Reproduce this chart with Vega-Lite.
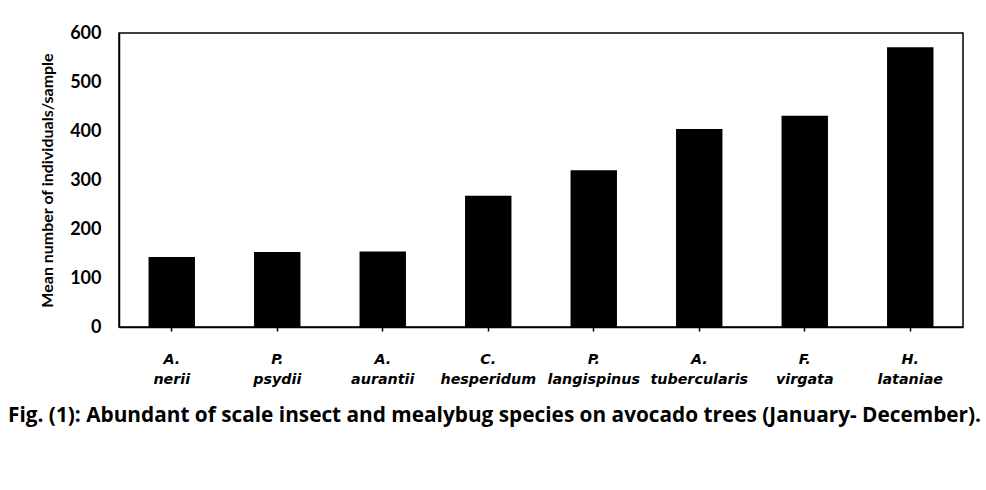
{
  "$schema": "https://vega.github.io/schema/vega-lite/v6.json",
  "width": 844,
  "height": 294,
  "autosize": {"type": "none"},
  "padding": {"left": 119, "top": 33, "right": 23, "bottom": 163},
  "background": "white",
  "data": {
    "values": [
      {"species": "A. nerii", "mean": 143},
      {"species": "P. psydii", "mean": 153},
      {"species": "A. aurantii", "mean": 154},
      {"species": "C. hesperidum", "mean": 268},
      {"species": "P. langispinus", "mean": 320},
      {"species": "A. tubercularis", "mean": 404},
      {"species": "F. virgata", "mean": 431},
      {"species": "H. lataniae", "mean": 571}
    ]
  },
  "title": {
    "text": "Fig. (1): Abundant of scale insect and mealybug species on avocado trees (January- December).",
    "orient": "bottom",
    "anchor": "start",
    "frame": "group",
    "dx": -111,
    "offset": 20,
    "font": "Open Sans",
    "fontSize": 20.8,
    "fontWeight": "bold",
    "color": "black"
  },
  "mark": {"type": "bar", "color": "black"},
  "encoding": {
    "x": {
      "field": "species",
      "type": "nominal",
      "sort": null,
      "title": null,
      "scale": {"paddingInner": 0.56, "paddingOuter": 0.28},
      "axis": {
        "labelAngle": 0,
        "labelExpr": "split(datum.label, ' ')",
        "labelFont": "DejaVu Sans",
        "labelFontStyle": "italic",
        "labelFontWeight": "bold",
        "labelFontSize": 14.3,
        "labelLineHeight": 20,
        "labelPadding": 21,
        "labelColor": "black",
        "tickColor": "black",
        "tickSize": 4,
        "tickWidth": 1.5,
        "domainColor": "black",
        "domainWidth": 1.5
      }
    },
    "y": {
      "field": "mean",
      "type": "quantitative",
      "title": "Mean number of individuals/sample",
      "scale": {"domain": [0, 600]},
      "axis": {
        "values": [0, 100, 200, 300, 400, 500, 600],
        "grid": false,
        "ticks": false,
        "labelFont": "Lato",
        "labelFontWeight": "bold",
        "labelFontSize": 18,
        "labelPadding": 18,
        "labelColor": "black",
        "domainColor": "black",
        "domainWidth": 1.5,
        "titleFont": "Lato",
        "titleFontWeight": "bold",
        "titleFontSize": 16,
        "titleColor": "black",
        "titlePadding": 14
      }
    }
  },
  "config": {
    "view": {"stroke": "black", "strokeWidth": 1.5}
  }
}
